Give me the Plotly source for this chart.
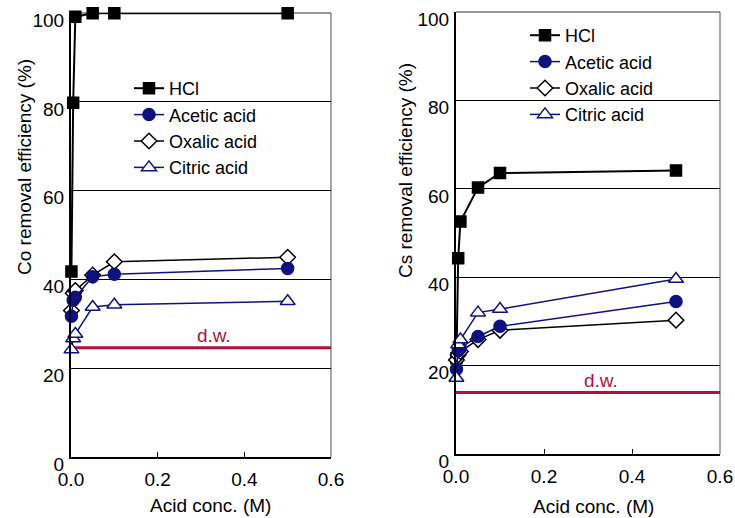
import plotly.graph_objects as go

# ---------------- data ----------------
conc = [0.001, 0.005, 0.01, 0.05, 0.1, 0.5]

co_hcl = [41.8, 79.8, 99.2, 100.0, 100.0, 100.0]
co_acetic = [31.7, 35.3, 36.0, 40.6, 41.2, 42.5]
co_oxalic = [33.0, 36.9, 37.5, 41.0, 44.0, 45.0]
co_citric = [24.2, 26.7, 27.7, 33.8, 34.3, 35.1]

cs_hcl = [21.7, 44.3, 52.6, 60.3, 63.6, 64.2]
cs_acetic = [19.2, 23.4, 24.0, 26.6, 28.9, 34.5]
cs_oxalic = [21.3, 22.4, 23.2, 25.9, 28.0, 30.3]
cs_citric = [17.2, 24.8, 25.9, 32.0, 32.8, 39.6]

dw_x = [0.0, 0.6]
co_dw = [24.6, 24.6]
cs_dw = [13.9, 13.9]

series_names = ["HCl", "Acetic acid", "Oxalic acid", "Citric acid"]
x_ticks = [0.0, 0.2, 0.4, 0.6]
x_ticklabels = ["0.0", "0.2", "0.4", "0.6"]
y_ticks = [0, 20, 40, 60, 80, 100]

# ---------------- layout helpers (page body margin removed) ----------------
OFF = 0
W, H = 735, 518


def fx(px):
    return (px - OFF) / W


def fy(py):
    return 1 - (py - OFF) / H


# ---------------- styles ----------------
FONT = "Liberation Sans, Arial, sans-serif"
NAVY = "#10107f"
RED = "#b0103a"
styles = {
    "HCl": dict(color="black", symbol="square", fill="black", size=11, lw=2),
    "Acetic acid": dict(color=NAVY, symbol="circle", fill=NAVY, size=12, lw=1.5),
    "Oxalic acid": dict(color="black", symbol="diamond", fill="white", size=12, lw=1.5),
    "Citric acid": dict(color=NAVY, symbol="triangle-up", fill="white", size=13, lw=1.5),
}

fig = go.Figure()

panels = [
    ("x", "y", "legend", {"HCl": co_hcl, "Acetic acid": co_acetic,
                          "Oxalic acid": co_oxalic, "Citric acid": co_citric}, co_dw),
    ("x2", "y2", "legend2", {"HCl": cs_hcl, "Acetic acid": cs_acetic,
                             "Oxalic acid": cs_oxalic, "Citric acid": cs_citric}, cs_dw),
]

draw_order = ["HCl", "Oxalic acid", "Acetic acid", "Citric acid"]

# frame lines (top dark, right gray)
for xa, ya in [("x", "y"), ("x2", "y2")]:
    fig.add_shape(type="line", xref=xa + " domain", yref=ya + " domain",
                  x0=1, x1=1, y0=0, y1=1, line=dict(color="#8a8a8a", width=1.5),
                  layer="below")
    fig.add_shape(type="line", xref=xa + " domain", yref=ya + " domain",
                  x0=0, x1=1, y0=1, y1=1, line=dict(color="#333333", width=1.2),
                  layer="below")

for xa, ya, leg, data, dw in panels:
    fig.add_trace(go.Scatter(
        x=dw_x, y=dw, xaxis=xa, yaxis=ya, mode="lines",
        line=dict(color=RED, width=3), showlegend=False, hoverinfo="skip"))
    for name in draw_order:
        st = styles[name]
        fig.add_trace(go.Scatter(
            x=conc, y=data[name], xaxis=xa, yaxis=ya, name=name,
            mode="lines+markers", legend=leg,
            legendgroup=name + leg, legendrank=series_names.index(name) + 1,
            line=dict(color=st["color"], width=st["lw"]),
            marker=dict(symbol=st["symbol"], size=st["size"], color=st["fill"],
                        line=dict(color=st["color"], width=1.5)),
            cliponaxis=False))
    # d.w. label
    fig.add_annotation(x=0.33, y=dw[0], xref=xa, yref=ya, text="d.w.",
                       showarrow=False, yshift=12, xanchor="center", yanchor="middle",
                       font=dict(family=FONT, size=19, color=RED))

axis_common_x = dict(range=[0, 0.6], tickvals=x_ticks, ticktext=x_ticklabels,
                     showline=True, linecolor="black", linewidth=1.5,
                     ticks="inside", ticklen=5, tickcolor="black", tickwidth=1,
                     showgrid=False, zeroline=False, ticklabelstandoff=4,
                     automargin=False, ticklabeloverflow="allow",
                     tickfont=dict(family=FONT, size=19, color="black"))
axis_common_y = dict(range=[0, 100.05], tickvals=y_ticks,
                     showline=True, linecolor="black", linewidth=2,
                     ticks="", showgrid=True, gridcolor="black", gridwidth=1,
                     zeroline=False, ticklabelshift=7, ticklabelstandoff=1,
                     automargin=False, ticklabeloverflow="allow",
                     tickfont=dict(family=FONT, size=19, color="black"))

fig.update_layout(
    width=W, height=H,
    margin=dict(l=0, r=0, t=0, b=0, autoexpand=False),
    paper_bgcolor="white", plot_bgcolor="white",
    font=dict(family=FONT, size=18, color="black"),
    xaxis=dict(domain=[fx(71), fx(331)], anchor="y", **axis_common_x),
    yaxis=dict(domain=[fy(457), fy(13)], anchor="x", **axis_common_y),
    xaxis2=dict(domain=[fx(456), fx(720)], anchor="y2", **axis_common_x),
    yaxis2=dict(domain=[fy(454), fy(12)], anchor="x2", **axis_common_y),
    legend=dict(x=fx(129), y=fy(70), xanchor="left", yanchor="top",
                bgcolor="rgba(0,0,0,0)", tracegroupgap=0,
                font=dict(family=FONT, size=18), traceorder="grouped"),
    legend2=dict(x=fx(525), y=fy(17), xanchor="left", yanchor="top",
                 bgcolor="rgba(0,0,0,0)", tracegroupgap=0,
                 font=dict(family=FONT, size=18), traceorder="grouped"),
    showlegend=True,
)

# axis titles
title_font = dict(family=FONT, size=19, color="black")
fig.add_annotation(x=fx(210), y=fy(505), xref="paper", yref="paper",
                   xanchor="center", yanchor="middle",
                   text="Acid conc. (M)", showarrow=False, font=title_font)
fig.add_annotation(x=fx(593), y=fy(506), xref="paper", yref="paper",
                   xanchor="center", yanchor="middle",
                   text="Acid conc. (M)", showarrow=False, font=title_font)
fig.add_annotation(x=fx(24), y=fy(167), xref="paper", yref="paper",
                   xanchor="center", yanchor="middle",
                   text="Co removal efficiency (%)", showarrow=False, textangle=-90,
                   font=title_font)
fig.add_annotation(x=fx(405), y=fy(170), xref="paper", yref="paper",
                   xanchor="center", yanchor="middle",
                   text="Cs removal efficiency (%)", showarrow=False, textangle=-90,
                   font=title_font)

fig.write_html("out.html",
               config={"displayModeBar": False},
               post_script="document.body.style.margin='0px';"
                           "document.body.style.overflow='hidden';")
